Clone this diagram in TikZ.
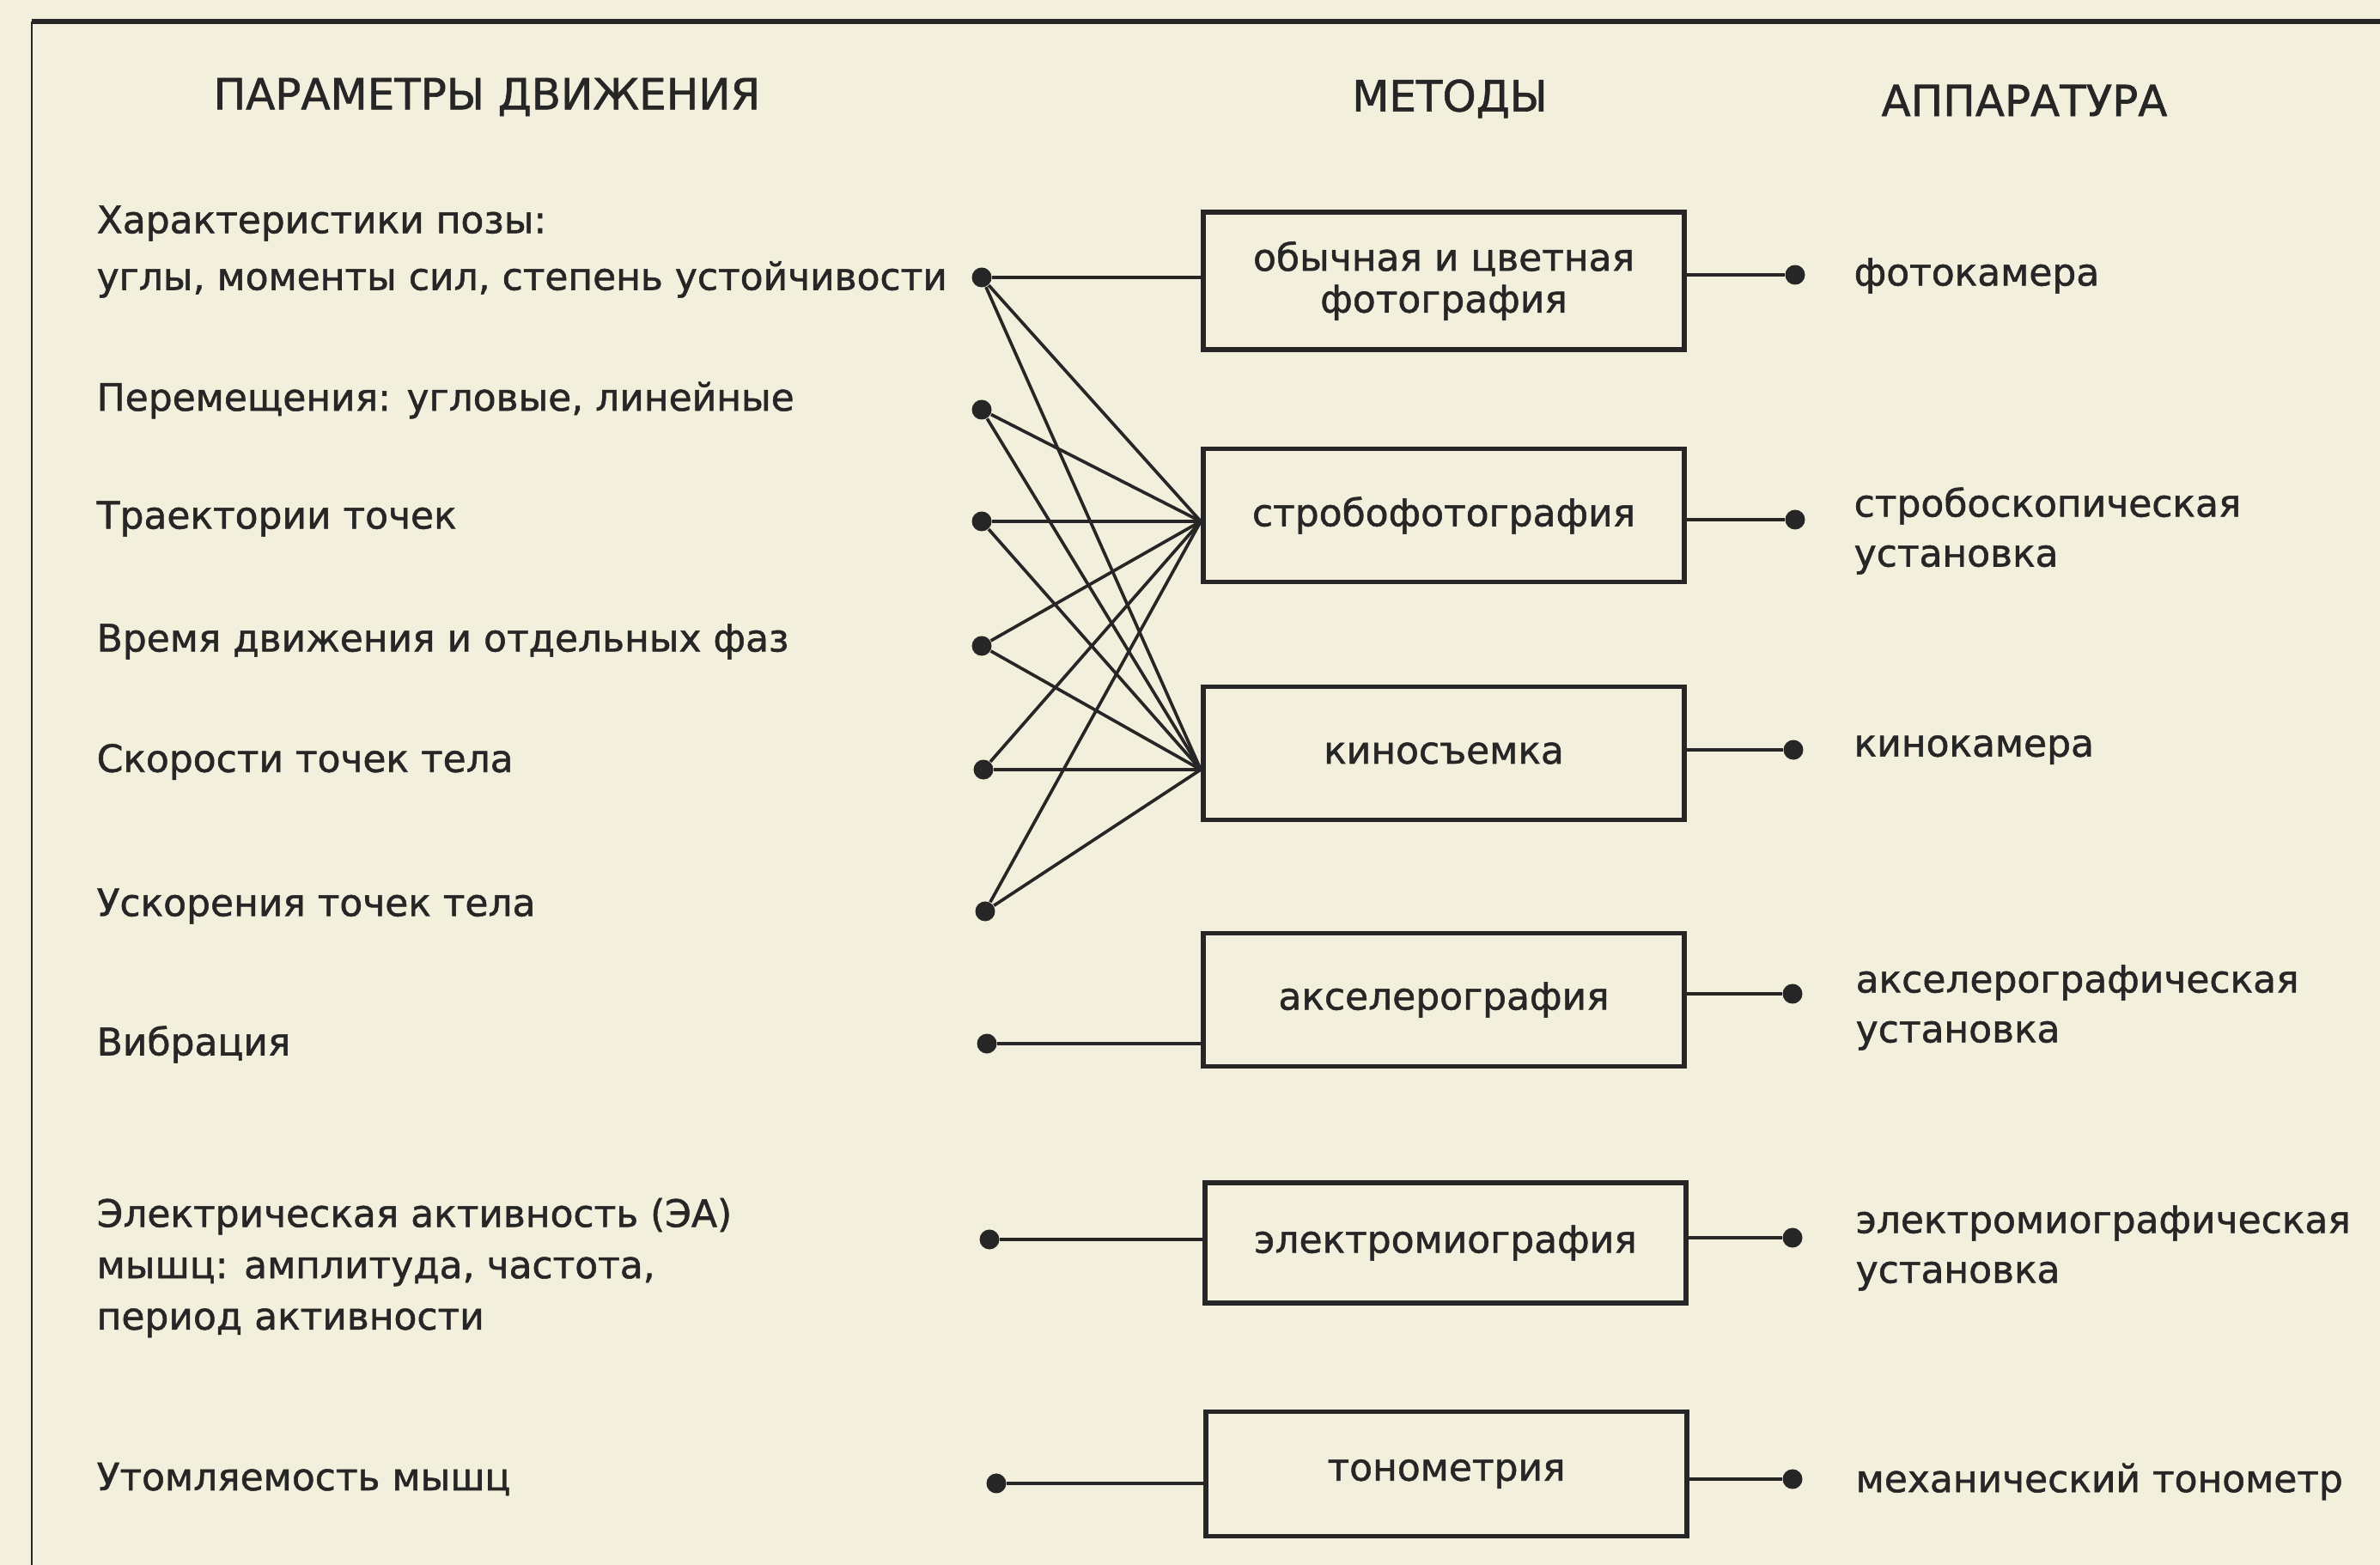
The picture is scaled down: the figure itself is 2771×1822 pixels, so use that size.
\documentclass[tikz,border=0pt]{standalone}
\usepackage{fontspec}
\setmainfont{DejaVu Sans}[BoldFont=DejaVu Sans,BoldFeatures={FakeBold=1.2}]
\definecolor{paper}{HTML}{F2F0DC}
\definecolor{ink}{HTML}{262626}
\begin{document}
\begin{tikzpicture}[x=0.01cm,y=-0.01cm,
  txt/.style={inner sep=0pt,text=ink,font=\fontsize{12.5}{17}\selectfont\bfseries},
  hdr/.style={txt,font=\fontsize{14.2}{17}\selectfont\bfseries},
  lefttxt/.style={txt,anchor=west,align=left},
  righttxt/.style={txt,anchor=west,align=left,font=\fontsize{12.5}{16.5}\selectfont\bfseries},
  method/.style={draw=ink,line width=1.6pt,minimum width=5.6cm,minimum height=1.55cm,
     inner sep=0pt,text=ink,align=center,font=\fontsize{12.5}{13.8}\selectfont\bfseries},
  pin/.style={circle,fill=ink,draw=none,inner sep=0pt,minimum size=0.23cm},
  wire/.style={draw=ink,line width=1.05pt}]
\fill[paper] (0,0) rectangle (2771,1822);
\useasboundingbox (0,0) rectangle (2771,1822);
% frame rules
\draw[ink,line width=1.6pt] (37,25) -- (2771,25);
\draw[ink,line width=0.8pt] (37,25) -- (37,1822);
% headers
\node[hdr] (h1) at (567,113) {ПАРАМЕТРЫ ДВИЖЕНИЯ};
\node[hdr] (h2) at (1688,115) {МЕТОДЫ};
\node[hdr] (h3) at (2357,117) {АППАРАТУРА};
% left texts
\node[lefttxt] (p1) at (112,293) {Характеристики позы:\\[1.8pt]углы, моменты сил, степень устойчивости};
\node[lefttxt] (p2) at (112,466) {Перемещения: угловые, линейные};
\node[lefttxt] (p3) at (112,604) {Траектории точек};
\node[lefttxt] (p4) at (112,747) {Время движения и отдельных фаз};
\node[lefttxt] (p5) at (112,887) {Скорости точек тела};
\node[lefttxt] (p6) at (112,1055) {Ускорения точек тела};
\node[lefttxt] (p7) at (112,1216) {Вибрация};
\node[lefttxt] (p8) at (112,1476) {Электрическая активность (ЭА)\\мышц: амплитуда, частота,\\период активности};
\node[lefttxt] (p9) at (112,1722) {Утомляемость мышц};
% left pins
\node[pin] (d1) at (1143,323) {};
\node[pin] (d2) at (1143,477) {};
\node[pin] (d3) at (1143,607) {};
\node[pin] (d4) at (1143,752) {};
\node[pin] (d5) at (1145,896) {};
\node[pin] (d6) at (1147,1061) {};
\node[pin] (d7) at (1149,1215) {};
\node[pin] (d8) at (1152,1443) {};
\node[pin] (d9) at (1160,1727) {};
% method boxes
\node[method,minimum height=1.6cm] (b1) at (1681,327) {обычная и цветная\\фотография};
\node[method] (b2) at (1681,600) {стробофотография};
\node[method] (b3) at (1681,877) {киносъемка};
\node[method] (b4) at (1681,1164) {акселерография};
\node[method,minimum height=1.4cm] (b5) at (1683,1447) {электромиография};
\node[method,minimum height=1.45cm] (b6) at (1684,1716) {тонометрия};
% convergence points
\coordinate (s2) at (b2.west |- d3);
\coordinate (k3) at (b3.west |- d5);
% left wires
\draw[wire] (d1) -- (d1 -| b1.west);
\draw[wire] (d1) -- (s2);
\draw[wire] (d1) -- (k3);
\draw[wire] (d2) -- (s2);
\draw[wire] (d2) -- (k3);
\draw[wire] (d3) -- (s2);
\draw[wire] (d3) -- (k3);
\draw[wire] (d4) -- (s2);
\draw[wire] (d4) -- (k3);
\draw[wire] (d5) -- (s2);
\draw[wire] (d5) -- (k3);
\draw[wire] (d6) -- (s2);
\draw[wire] (d6) -- (k3);
\draw[wire] (d7) -- (d7 -| b4.west);
\draw[wire] (d8) -- (d8 -| b5.west);
\draw[wire] (d9) -- (d9 -| b6.west);
% right pins
\node[pin] (r1) at (2090,320) {};
\node[pin] (r2) at (2090,605) {};
\node[pin] (r3) at (2088,873) {};
\node[pin] (r4) at (2087,1157) {};
\node[pin] (r5) at (2087,1441) {};
\node[pin] (r6) at (2087,1722) {};
\draw[wire] (b1.east |- r1) -- (r1);
\draw[wire] (b2.east |- r2) -- (r2);
\draw[wire] (b3.east |- r3) -- (r3);
\draw[wire] (b4.east |- r4) -- (r4);
\draw[wire] (b5.east |- r5) -- (r5);
\draw[wire] (b6.east |- r6) -- (r6);
% right texts
\node[righttxt] (a1) at (2158,321) {фотокамера};
\node[righttxt] (a2) at (2158,618) {стробоскопическая\\установка};
\node[righttxt] (a3) at (2158,873) {кинокамера};
\node[righttxt] (a4) at (2160,1173) {акселерографическая\\установка};
\node[righttxt] (a5) at (2160,1453) {электромиографическая\\установка};
\node[righttxt] (a6) at (2160,1725) {механический тонометр};
\end{tikzpicture}
\end{document}
